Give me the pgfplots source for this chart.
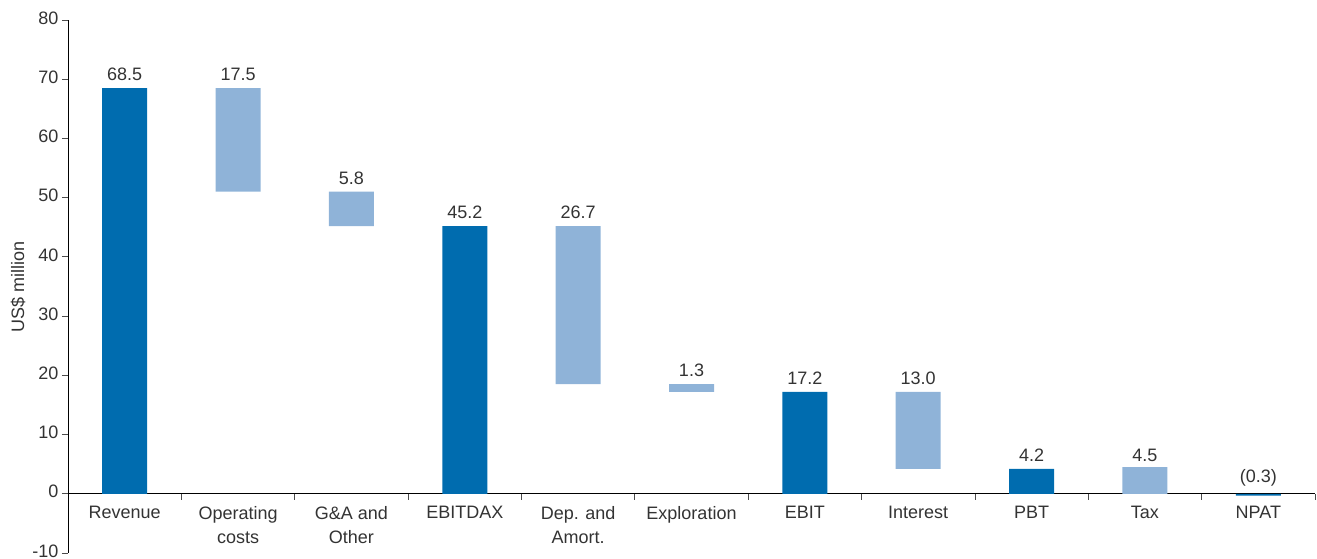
\documentclass[border=0pt]{standalone}
\usepackage{fontspec}
\setmainfont{Liberation Sans}
\usepackage{pgfplots}
\pgfplotsset{compat=1.18}
\definecolor{dark}{HTML}{006CAF}
\definecolor{light}{HTML}{8FB3D8}
\definecolor{txt}{HTML}{333333}
\pgfplotsset{
  common/.style={
    scale only axis, width=1247bp, height=533bp,
    xmin=-0.5, xmax=10.5, ymin=-10, ymax=80,
    clip=false,
  }
}
\begin{document}
\begin{tikzpicture}
\begin{axis}[
  common,
  axis y line=left, axis x line=middle,
  axis line style={-, black, line width=0.8bp},
  ytick={-10,0,10,20,30,40,50,60,70,80},
  xtick={0,1,2,3,4,5,6,7,8,9,10},
  xticklabels={Revenue, Operating\\costs, G\&A and\\Other, EBITDAX, Dep. and\\Amort., Exploration, EBIT, Interest, PBT, Tax, NPAT},
  minor xtick={0.5,1.5,2.5,3.5,4.5,5.5,6.5,7.5,8.5,9.5,10.5},
  major x tick style={draw=none},
  tick align=outside,
  major tick length=6bp, minor tick length=6bp,
  tick style={black!70, line width=0.8bp},
  hide obscured x ticks=false, hide obscured y ticks=false,
  /pgf/number format/assume math mode=true,
  tick label style={font=\fontsize{18bp}{24bp}\selectfont, text=txt},
  x tick label style={align=center, yshift=-3bp},
  y tick label style={yshift=2bp},
  ylabel={US\$ million},
  ylabel style={at={(axis description cs:-0.0401,0.5)}, anchor=center, font=\fontsize{18bp}{22bp}\selectfont, text=txt},
  ybar stacked, bar width=45bp,
]
% invisible base
\addplot[draw=none, fill=none] coordinates {
 (0,0) (1,51.0) (2,45.2) (3,0) (4,18.5) (5,17.2) (6,0) (7,4.2) (8,0) (9,-0.3) (10,0)};
% totals (dark)
\addplot[draw=none, fill=dark] coordinates {
 (0,68.5) (1,0) (2,0) (3,45.2) (4,0) (5,0) (6,17.2) (7,0) (8,4.2) (9,0) (10,-0.3)};
% changes (light)
\addplot[draw=none, fill=light] coordinates {
 (0,0) (1,17.5) (2,5.8) (3,0) (4,26.7) (5,1.3) (6,0) (7,13.0) (8,0) (9,4.5) (10,0)};
\coordinate (bl) at (rel axis cs:0,0);
\coordinate (tr) at (rel axis cs:1,1);
\end{axis}
\begin{axis}[
  common, hide axis,
]
\addplot[only marks, mark=none, draw=none,
  nodes near coords, point meta=explicit symbolic,
  every node near coord/.append style={font=\fontsize{18bp}{22bp}\selectfont, text=txt, anchor=south, yshift=4bp}]
 coordinates {
 (0,68.5) [68.5] (1,68.5) [17.5] (2,51.0) [5.8] (3,45.2) [45.2] (4,45.2) [26.7] (5,18.5) [1.3]
 (6,17.2) [17.2] (7,17.2) [13.0] (8,4.2) [4.2] (9,4.2) [4.5] (10,0) [(0.3)]};
\end{axis}
\pgfresetboundingbox
\path[use as bounding box] ([xshift=-68bp,yshift=-6bp]bl) rectangle ([xshift=2bp,yshift=20bp]tr);
\end{tikzpicture}
\end{document}
